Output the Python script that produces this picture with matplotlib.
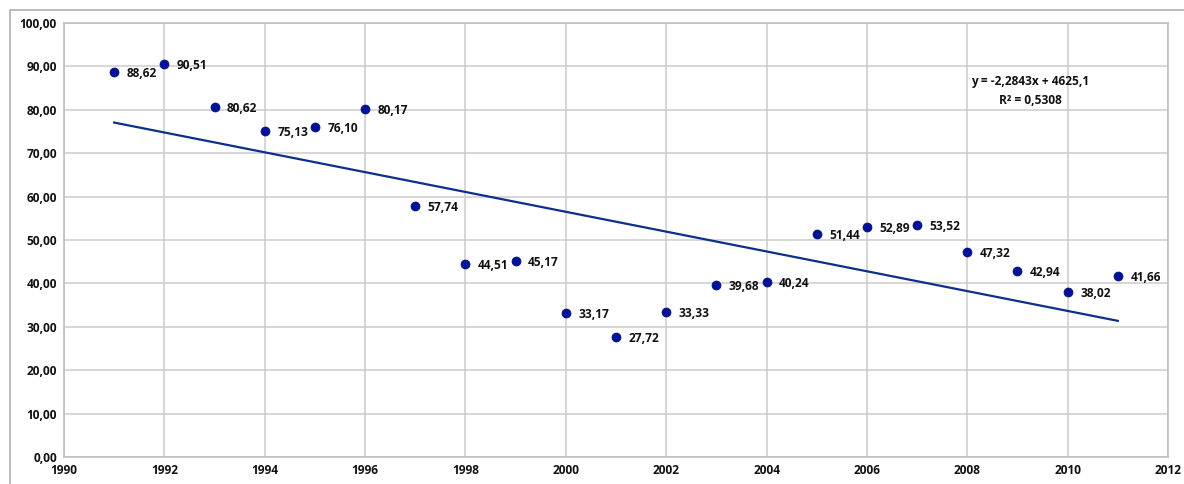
import numpy as np
import matplotlib.pyplot as plt
from matplotlib.patches import Rectangle

years = [1991, 1992, 1993, 1994, 1995, 1996, 1997, 1998, 1999, 2000, 2001,
         2002, 2003, 2004, 2005, 2006, 2007, 2008, 2009, 2010, 2011]
values = [88.62, 90.51, 80.62, 75.13, 76.10, 80.17, 57.74, 44.51, 45.17, 33.17, 27.72,
          33.33, 39.68, 40.24, 51.44, 52.89, 53.52, 47.32, 42.94, 38.02, 41.66]
slope = -2.2843
intercept = 4625.1
r2 = 0.5308

plt.rcParams['font.family'] = ['Open Sans', 'DejaVu Sans']

fig = plt.figure(figsize=(11.84, 4.84), dpi=100)
fig.patches.append(Rectangle((10 / 1184, -0.1), 1.2, (484 - 10) / 484 + 0.1,
                             transform=fig.transFigure, fill=False,
                             edgecolor='#b0b0b0', linewidth=1.2))
ax = fig.add_axes([64 / 1184, (484 - 457) / 484, (1168 - 64) / 1184, (457 - 23) / 484])

x = np.array(years)
y = np.array(values)

# trend line
xt = np.array([x[0], x[-1]])
ax.plot(xt, slope * xt + intercept, color='#0d2f8c', linewidth=1.6, zorder=2)

ax.scatter(x, y, s=42, color='#00129a', edgecolors='#000c6e', linewidths=0.5, zorder=3)

for xi, yi in zip(x, y):
    ax.annotate(f'{yi:.2f}'.replace('.', ','), (xi, yi), xytext=(9, -1),
                textcoords='offset points', fontsize=8.6, fontweight='bold',
                va='center', ha='left', color='#111111')

ax.text(2009.25, 86.5, f'y = {slope:.4f}x + {intercept:.1f}'.replace('.', ','),
        fontsize=8.6, fontweight='bold', ha='center', va='center', color='#111111')
ax.text(2009.25, 82.2, f'R² = {r2:.4f}'.replace('.', ','),
        fontsize=8.6, fontweight='bold', ha='center', va='center', color='#111111')

ax.set_xlim(1990, 2012)
ax.set_ylim(0, 100)
ax.set_xticks(range(1990, 2013, 2))
ax.set_yticks(range(0, 101, 10))
ax.set_yticklabels([f'{v:.2f}'.replace('.', ',') for v in range(0, 101, 10)])
ax.grid(True, color='#cccccc', linewidth=1.1)
ax.set_axisbelow(True)
for s in ax.spines.values():
    s.set_color('#c0c0c0')
    s.set_linewidth(1.2)
ax.tick_params(length=0, labelsize=8.6, pad=5, colors='#111111')
for lbl in ax.get_xticklabels() + ax.get_yticklabels():
    lbl.set_fontweight('bold')

fig.savefig('out.png', dpi=100)
